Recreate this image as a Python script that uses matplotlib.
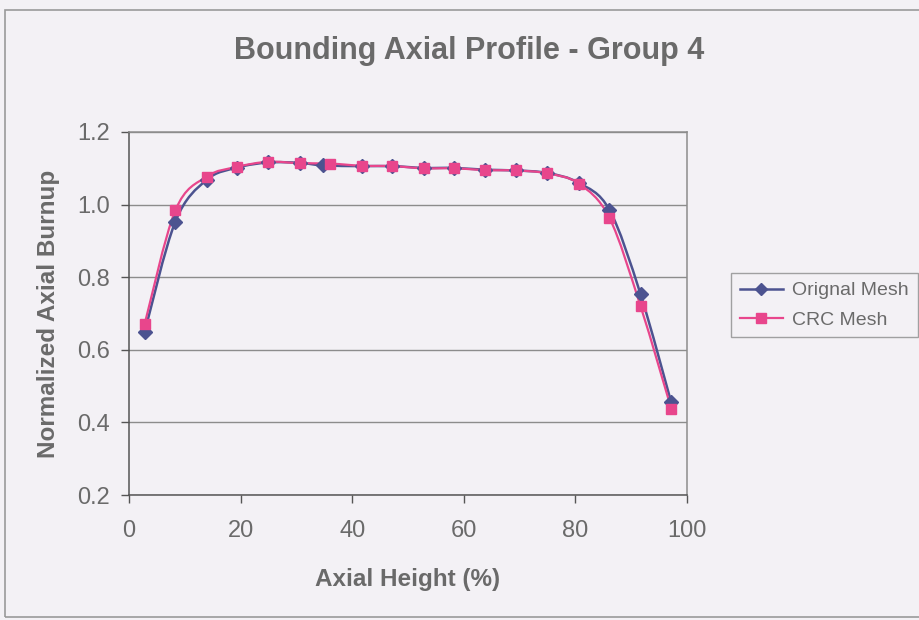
import matplotlib.pyplot as plt
from matplotlib.lines import Line2D
from matplotlib.patches import PathPatch, Rectangle
from matplotlib.path import Path

plt.rcParams['font.family'] = ['Liberation Sans', 'DejaVu Sans']

# axial node positions (% of height)
crc_x = [2.8, 8.3, 13.9, 19.4, 25.0, 30.6, 36.1, 41.7, 47.2,
         52.8, 58.3, 63.9, 69.4, 75.0, 80.6, 86.1, 91.7, 97.2]
orig_x = [2.8, 8.3, 13.9, 19.4, 25.0, 30.6, 34.8, 41.7, 47.2,
          52.8, 58.3, 63.9, 69.4, 75.0, 80.6, 86.1, 91.7, 97.2]

orig_burnup = [0.649, 0.953, 1.068, 1.102, 1.116, 1.115, 1.108, 1.106, 1.106,
               1.101, 1.101, 1.096, 1.094, 1.087, 1.060, 0.986, 0.753, 0.455]
crc_burnup = [0.671, 0.984, 1.077, 1.104, 1.118, 1.114, 1.113, 1.107, 1.106,
              1.100, 1.100, 1.095, 1.094, 1.086, 1.058, 0.964, 0.720, 0.438]

x_ticks = [0, 20, 40, 60, 80, 100]
y_ticks = [0.2, 0.4, 0.6, 0.8, 1.0, 1.2]

bg = '#f3f1f5'
txt = '#6a6a6a'
navy = '#4c5390'
pink = '#e8468c'


def smooth_path(xs, ys):
    # catmull-rom style bezier through the points, like a spreadsheet "smoothed line"
    pts = list(zip(xs, ys))
    verts = [pts[0]]
    codes = [Path.MOVETO]
    n = len(pts)
    for i in range(n - 1):
        p0 = pts[i - 1] if i > 0 else pts[i]
        p1 = pts[i]
        p2 = pts[i + 1]
        p3 = pts[i + 2] if i + 2 < n else pts[i + 1]
        c1 = (p1[0] + (p2[0] - p0[0]) / 6, p1[1] + (p2[1] - p0[1]) / 6)
        c2 = (p2[0] - (p3[0] - p1[0]) / 6, p2[1] - (p3[1] - p1[1]) / 6)
        verts += [c1, c2, p2]
        codes += [Path.CURVE4] * 3
    return Path(verts, codes)


fig = plt.figure(figsize=(9.19, 6.2), dpi=100, facecolor=bg)
ax = fig.add_axes([0.1404, 0.2016, 0.607, 0.5855])
ax.set_facecolor(bg)

# chart frame
fig.patches.append(Rectangle((5 / 919, 3 / 620), 1.0, 1 - 13 / 620, transform=fig.transFigure,
                             fill=False, edgecolor='#9a9a9a', linewidth=1.2))

ax.add_patch(PathPatch(smooth_path(orig_x, orig_burnup), fill=False,
                       edgecolor=navy, linewidth=1.8, transform=ax.transData, zorder=3))
ax.add_patch(PathPatch(smooth_path(crc_x, crc_burnup), fill=False,
                       edgecolor=pink, linewidth=1.6, transform=ax.transData, zorder=4))
ax.plot(orig_x, orig_burnup, linestyle='none', marker='D', markersize=7.5,
        color=navy, zorder=5)
ax.plot(crc_x, crc_burnup, linestyle='none', marker='s', markersize=7.5,
        color=pink, zorder=6)

ax.set_xlim(0, 100)
ax.set_ylim(0.2, 1.2)
ax.set_xticks(x_ticks)
ax.set_yticks(y_ticks)
ax.set_yticklabels(['%.1f' % v for v in y_ticks])
ax.grid(axis='y', color='#8c8c8c', linewidth=1.0)
ax.set_axisbelow(True)
for side in ['top', 'right']:
    ax.spines[side].set_color('#8c8c8c')
for side in ['left', 'bottom']:
    ax.spines[side].set_color('#555555')
for s in ax.spines.values():
    s.set_linewidth(1.1)
ax.tick_params(direction='out', length=5.5, width=1, color='#555555',
               labelsize=17, labelcolor=txt)
ax.tick_params(axis='x', pad=12.5)
ax.tick_params(axis='y', pad=8.5)

ax.set_xlabel('Axial Height (%)', fontsize=17.5, fontweight='bold', color=txt, labelpad=19)
ax.set_ylabel('Normalized Axial Burnup', fontsize=17.5, fontweight='bold', color=txt, labelpad=12)
fig.text(0.510, 0.918, 'Bounding Axial Profile - Group 4', ha='center', va='center',
         fontsize=22, fontweight='bold', color=txt)

handles = [Line2D([], [], color=navy, linewidth=1.8, marker='D', markersize=6.5),
           Line2D([], [], color=pink, linewidth=1.6, marker='s', markersize=6.5)]
leg = fig.legend(handles, ['Orignal Mesh', 'CRC Mesh'], loc='upper left',
                 bbox_to_anchor=(731 / 919, 1 - 273 / 620), fontsize=14,
                 frameon=True, fancybox=False, edgecolor='#8c8c8c', facecolor=bg,
                 handlelength=2.2, handletextpad=0.5, borderpad=0.45, labelspacing=0.6,
                 borderaxespad=0)
leg.get_frame().set_linewidth(1.0)
for t in leg.get_texts():
    t.set_color(txt)

fig.savefig('out.png', dpi=100, facecolor=bg)
